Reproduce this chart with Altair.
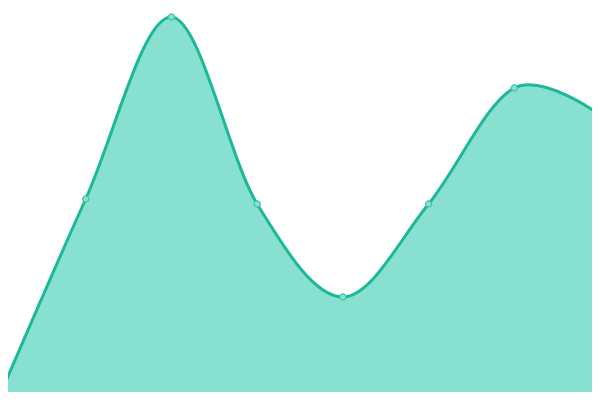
import altair as alt
import pandas as pd

idx = [0, 1, 2, 3, 4, 5, 6, 7]
values = [5, 201, 383, 196, 103, 196, 312, 285]

df = pd.DataFrame({"i": idx, "v": values})

x = alt.X("i:Q", axis=None, scale=alt.Scale(domain=[0, 7], range=[-8, 592]))
y = alt.Y("v:Q", axis=None, scale=alt.Scale(domain=[0, 392], range=[392, 0]))

base = alt.Chart(df).encode(x=x, y=y)

area = base.mark_area(interpolate="cardinal", color="#88e0d0", opacity=1)
line = base.mark_line(interpolate="cardinal", color="#1cb898", strokeWidth=3)
pts = base.mark_point(shape="circle", filled=True, size=38, fill="#88e0d0",
                      stroke="#3cc4a8", strokeWidth=1.2, opacity=1)

chart = (area + line + pts).properties(
    width=584, height=384,
    autosize=alt.AutoSizeParams(type="none"),
    padding=0,
).configure_view(strokeWidth=0)

chart.save("out.html", embed_options={"renderer": "svg", "actions": False})
